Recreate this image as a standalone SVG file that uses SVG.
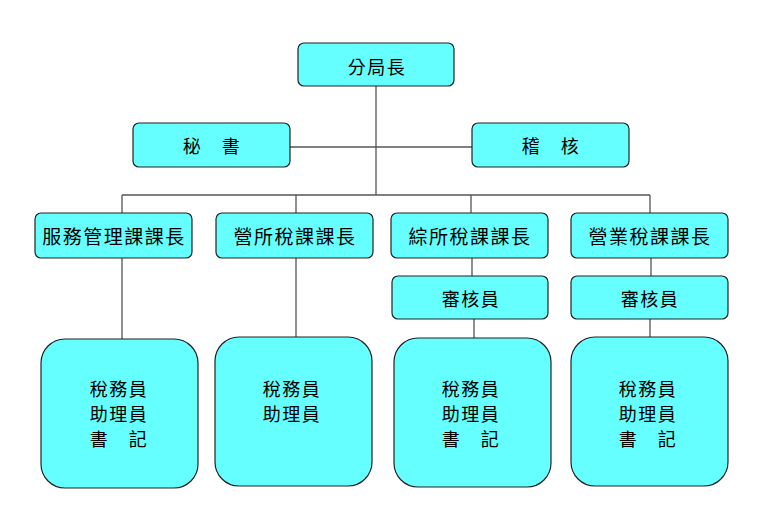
<svg xmlns="http://www.w3.org/2000/svg" width="767" height="529" viewBox="0 0 767 529">
<style>
.box{fill:#66FFFF;stroke:#222;stroke-width:1.2}
.ln{stroke:#555;stroke-width:1.3;fill:none}
text{font-family:"Noto Sans CJK TC","Noto Sans CJK SC",sans-serif;font-size:18px;fill:#000;text-anchor:middle;letter-spacing:1.5px}
.t19{font-size:19px}
</style>
<rect width="767" height="529" fill="#fff"/>
<g id="connectors">
<path class="ln" d="M376 86V195M290 147H472M122 195H650M122 195V213M296 195V213M471 195V213M650 195V213"/>
<path class="ln" d="M122 258V339M296 258V337M472 258V276M474 319V338M651 258V276M650 319V337"/>
</g>
<g id="n-chief"><rect class="box" x="298" y="43" width="156" height="43" rx="6"/><text x="377" y="74">分局長</text></g>
<g id="n-secretary"><rect class="box" x="133" y="123" width="157" height="44" rx="6"/><text x="212" y="153">秘　書</text></g>
<g id="n-audit"><rect class="box" x="472" y="123" width="157" height="44" rx="6"/><text x="551" y="153">稽　核</text></g>
<g id="n-service"><rect class="box" x="35" y="213" width="157" height="45" rx="6"/><text class="t19" x="114" y="244">服務管理課課長</text></g>
<g id="n-profit"><rect class="box" x="216" y="213" width="157" height="45" rx="6"/><text class="t19" x="295" y="244">營所稅課課長</text></g>
<g id="n-income"><rect class="box" x="391" y="213" width="157" height="45" rx="6"/><text class="t19" x="470" y="244">綜所稅課課長</text></g>
<g id="n-business"><rect class="box" x="571" y="213" width="157" height="45" rx="6"/><text class="t19" x="650" y="244">營業稅課課長</text></g>
<g id="n-review1"><rect class="box" x="392" y="276" width="156" height="43" rx="6"/><text x="471" y="306">審核員</text></g>
<g id="n-review2"><rect class="box" x="571" y="276" width="157" height="43" rx="6"/><text x="650" y="306">審核員</text></g>
<g id="n-staff1"><rect class="box" x="41" y="339" width="157" height="149" rx="24"/><text x="119" y="396">稅務員</text><text x="119" y="421">助理員</text><text x="119" y="446">書　記</text></g>
<g id="n-staff2"><rect class="box" x="215" y="337" width="157" height="149" rx="24"/><text x="292" y="396">稅務員</text><text x="292" y="421">助理員</text></g>
<g id="n-staff3"><rect class="box" x="394" y="338" width="157" height="149" rx="24"/><text x="471" y="396">稅務員</text><text x="471" y="421">助理員</text><text x="471" y="446">書　記</text></g>
<g id="n-staff4"><rect class="box" x="571" y="337" width="157" height="149" rx="24"/><text x="648" y="396">稅務員</text><text x="648" y="421">助理員</text><text x="648" y="446">書　記</text></g>
</svg>
